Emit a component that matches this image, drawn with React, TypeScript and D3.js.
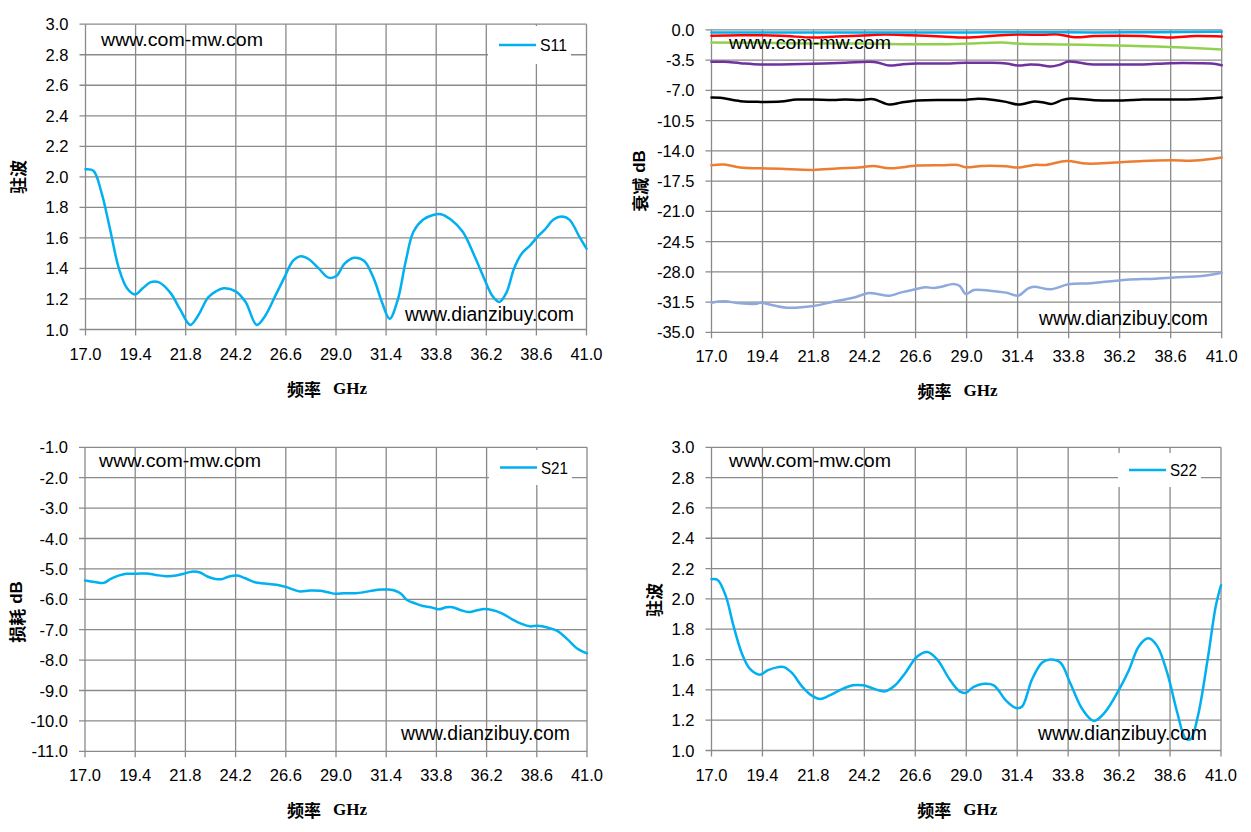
import * as d3 from 'd3';

// frequency axis ticks (GHz)
const freqTicks = d3.range(11).map((i) => 17 + 2.4 * i);

// S11 standing wave, [GHz, VSWR]
const s11: [number, number][] = [
  [17.0, 2.05], [17.38, 2.04], [17.76, 1.9], [18.14, 1.68], [18.6, 1.4], [18.99, 1.27],
  [19.37, 1.23], [19.74, 1.27], [20.12, 1.31], [20.5, 1.31], [21.07, 1.24], [21.54, 1.13],
  [22.02, 1.03], [22.39, 1.09], [22.87, 1.21], [23.25, 1.25], [23.62, 1.27], [24.19, 1.25],
  [24.67, 1.18], [25.2, 1.03], [25.61, 1.09], [26.09, 1.22], [26.56, 1.35], [26.94, 1.45],
  [27.32, 1.48], [27.7, 1.46], [28.17, 1.4], [28.64, 1.34], [29.02, 1.35], [29.4, 1.43],
  [29.87, 1.47], [30.34, 1.45], [30.82, 1.33], [31.2, 1.18], [31.57, 1.07], [31.95, 1.19],
  [32.33, 1.44], [32.71, 1.64], [33.18, 1.72], [33.65, 1.75], [34.03, 1.755], [34.5, 1.72],
  [35.07, 1.64], [35.64, 1.48], [36.11, 1.33], [36.49, 1.22], [36.82, 1.18], [37.16, 1.24],
  [37.53, 1.4], [37.91, 1.5], [38.29, 1.55], [38.67, 1.61], [39.04, 1.66], [39.42, 1.72],
  [39.8, 1.74], [40.18, 1.72], [40.65, 1.61], [41.0, 1.53],
];

// attenuation states, [GHz, dB]
const att0: [number, number][] = [
  [17, -0.31], [20, -0.3], [23, -0.32], [26, -0.3], [29, -0.31], [32, -0.28], [35, -0.3], [38, -0.27], [41, -0.22],
];
const att1: [number, number][] = [
  [17, -0.69], [18.36, -0.62], [20.26, -0.69], [21.77, -0.89], [22.9, -0.77], [24.42, -0.62],
  [25.18, -0.54], [26.31, -0.62], [27.83, -0.77], [28.96, -0.89], [30.29, -0.69], [31.42, -0.54],
  [32.56, -0.58], [33.32, -0.54], [34.06, -0.85], [35.0, -0.73], [36.34, -0.69], [37.29, -0.73],
  [38.6, -0.89], [39.75, -0.73], [41, -0.77],
];
const att2: [number, number][] = [
  [17, -1.47], [19.3, -1.51], [21.77, -1.58], [24.04, -1.58], [25.93, -1.66], [27.83, -1.66],
  [29.72, -1.54], [30.67, -1.47], [31.61, -1.62], [33.5, -1.7], [35.4, -1.78], [37.29, -1.89],
  [39.18, -2.05], [41, -2.28],
];
const att3: [number, number][] = [
  [17, -3.71], [17.6, -3.71], [18.36, -3.86], [19.3, -4.01], [20.26, -4.01], [21.77, -3.94],
  [23.28, -3.82], [24.42, -3.71], [24.8, -3.78], [25.37, -4.13], [25.93, -4.01], [26.69, -3.9],
  [27.83, -3.9], [28.96, -3.82], [30.1, -3.82], [30.86, -3.9], [31.42, -4.13], [31.99, -4.01],
  [32.37, -4.05], [32.94, -4.25], [33.32, -4.09], [33.79, -3.67], [34.26, -3.78], [34.83, -3.98],
  [35.97, -4.01], [37.29, -4.01], [38.6, -3.86], [39.94, -3.86], [40.51, -3.9], [41, -4.09],
];
const att4: [number, number][] = [
  [17, -7.83], [17.42, -7.87], [18.36, -8.26], [19.3, -8.34], [20.26, -8.3], [21.01, -8.07],
  [21.77, -8.07], [22.72, -8.11], [23.28, -8.07], [24.04, -8.11], [24.61, -8.03], [25.37, -8.65],
  [25.93, -8.41], [26.69, -8.18], [27.83, -8.11], [28.96, -8.11], [29.53, -7.99], [30.29, -8.11],
  [30.86, -8.34], [31.42, -8.65], [32.18, -8.3], [32.56, -8.38], [33.03, -8.57], [33.51, -8.11],
  [33.89, -7.95], [35.0, -8.15], [36.34, -8.18], [37.29, -8.07], [38.6, -8.07], [39.75, -8.03],
  [41, -7.83],
];
const att5: [number, number][] = [
  [17, -15.67], [17.6, -15.59], [18.36, -15.94], [19.3, -16.02], [20.26, -16.09], [21.77, -16.21],
  [22.9, -16.05], [24.04, -15.9], [24.61, -15.75], [25.37, -16.02], [26.69, -15.71], [27.83, -15.67],
  [28.58, -15.63], [28.96, -15.9], [29.72, -15.75], [30.86, -15.79], [31.42, -15.94], [32.18, -15.63],
  [32.75, -15.63], [33.7, -15.17], [34.64, -15.48], [35.97, -15.36], [37.29, -15.17], [38.6, -15.09],
  [39.75, -15.13], [41, -14.78],
];
const att6: [number, number][] = [
  [17, -31.57], [17.6, -31.42], [18.36, -31.65], [19.12, -31.69], [19.3, -31.57], [19.88, -31.88],
  [20.54, -32.15], [21.77, -31.96], [22.72, -31.46], [23.66, -31.0], [24.42, -30.45], [24.8, -30.57],
  [25.37, -30.76], [25.93, -30.38], [26.69, -29.95], [27.07, -29.79], [27.45, -29.87], [27.83, -29.72],
  [28.39, -29.41], [28.68, -29.64], [28.96, -30.57], [29.34, -30.11], [30.1, -30.18], [30.86, -30.41],
  [31.42, -30.76], [31.9, -29.91], [32.18, -29.72], [32.94, -30.03], [33.79, -29.45], [34.83, -29.33],
  [35.4, -29.18], [36.53, -28.91], [37.86, -28.79], [39.18, -28.6], [39.94, -28.52], [41, -28.1],
];

// S21 insertion loss, [GHz, dB]
const s21: [number, number][] = [
  [17.0, -5.38], [17.47, -5.43], [17.89, -5.46], [18.23, -5.33], [18.6, -5.22], [18.98, -5.16],
  [19.46, -5.16], [19.93, -5.15], [20.4, -5.2], [20.87, -5.24], [21.35, -5.22], [21.72, -5.16],
  [22.1, -5.09], [22.47, -5.11], [22.85, -5.25], [23.23, -5.33], [23.51, -5.34], [23.89, -5.25],
  [24.27, -5.22], [24.64, -5.3], [25.12, -5.44], [25.59, -5.48], [26.16, -5.52], [26.63, -5.6],
  [27.0, -5.69], [27.29, -5.74], [27.76, -5.71], [28.24, -5.72], [28.61, -5.77], [28.99, -5.82],
  [29.37, -5.8], [29.94, -5.8], [30.31, -5.77], [30.79, -5.71], [31.16, -5.68], [31.54, -5.68],
  [31.83, -5.72], [32.11, -5.82], [32.39, -6.02], [32.77, -6.13], [33.15, -6.22], [33.53, -6.26],
  [33.9, -6.33], [34.28, -6.26], [34.57, -6.26], [34.94, -6.35], [35.32, -6.42], [35.7, -6.37],
  [36.08, -6.32], [36.46, -6.35], [36.93, -6.46], [37.4, -6.65], [37.88, -6.81], [38.26, -6.89],
  [38.64, -6.87], [39.11, -6.93], [39.58, -7.04], [40.06, -7.31], [40.53, -7.62], [41.0, -7.78],
];

// S22 standing wave, [GHz, VSWR]
const s22: [number, number][] = [
  [17.0, 2.13], [17.29, 2.125], [17.67, 2.02], [18.04, 1.82], [18.43, 1.64], [18.8, 1.54],
  [19.28, 1.5], [19.66, 1.53], [20.14, 1.55], [20.42, 1.55], [20.8, 1.51], [21.28, 1.42],
  [21.75, 1.36], [22.13, 1.34], [22.51, 1.36], [23.08, 1.4], [23.65, 1.43], [24.13, 1.43],
  [24.6, 1.41], [25.17, 1.39], [25.65, 1.43], [26.12, 1.51], [26.69, 1.62], [27.17, 1.65],
  [27.64, 1.6], [28.21, 1.47], [28.69, 1.39], [28.97, 1.38], [29.35, 1.42], [29.83, 1.44],
  [30.3, 1.43], [30.87, 1.33], [31.35, 1.28], [31.63, 1.29], [32.1, 1.47], [32.58, 1.58],
  [32.96, 1.6], [33.43, 1.58], [33.91, 1.44], [34.48, 1.27], [35.01, 1.195], [35.52, 1.25],
  [36.19, 1.4], [36.66, 1.53], [37.14, 1.69], [37.58, 1.74], [37.99, 1.69], [38.47, 1.51],
  [38.94, 1.25], [39.33, 1.08], [39.57, 1.075], [39.9, 1.22], [40.37, 1.6], [40.75, 1.95],
  [41.0, 2.09],
];

const vswrTicks = d3.range(11).map((i) => 1 + 0.2 * i);
const attTicks = d3.range(11).map((i) => -35 + 3.5 * i);
const lossTicks = d3.range(11).map((i) => -11 + i);

const CYAN = '#00B0F0';
const GRID = '#8a8a8a';
const SANS = '"Liberation Sans", Arial, sans-serif';
const CJK = '"Noto Sans CJK SC", sans-serif';

interface Series { data: [number, number][]; color: string }

interface PanelProps {
  box: [number, number, number, number];
  yDomain: [number, number];
  yTicks: number[];
  series: Series[];
  yTitle: string;
  yUnit?: string;
  yTitleX: number;
  yTitleY: number;
  legend?: { name: string; box: [number, number, number, number] };
  wm1: [number, number];
  wm2: [number, number];
}

function Panel({ box, yDomain, yTicks, series, yTitle, yUnit, yTitleX, yTitleY, legend, wm1, wm2 }: PanelProps) {
  const [x0, x1, y0, y1] = box;
  const x = d3.scaleLinear().domain([17, 41]).range([x0, x1]);
  const y = d3.scaleLinear().domain(yDomain).range([y1, y0]);
  const line = d3.line<[number, number]>()
    .x((d) => x(d[0]))
    .y((d) => y(d[1]))
    .curve(d3.curveCatmullRom.alpha(0.5));

  return (
    <g>
      {yTicks.map((t) => (
        <g key={'y' + t}>
          <line x1={x0 - 6} x2={x1} y1={y(t)} y2={y(t)} stroke={GRID} strokeWidth={1.3} />
          <text x={x0 - 17} y={y(t) + 6} textAnchor="end" fontSize={16.5} fontFamily={SANS}>
            {t.toFixed(1)}
          </text>
        </g>
      ))}
      {freqTicks.map((t) => (
        <g key={'x' + t}>
          <line x1={x(t)} x2={x(t)} y1={y0} y2={y1 + 6} stroke={GRID} strokeWidth={1.3} />
          <text x={x(t)} y={y1 + 30} textAnchor="middle" fontSize={16.5} fontFamily={SANS}>
            {t.toFixed(1)}
          </text>
        </g>
      ))}
      {legend && (
        <rect x={legend.box[0]} y={legend.box[1]} width={legend.box[2] - legend.box[0]}
          height={legend.box[3] - legend.box[1]} fill="#fff" />
      )}
      {series.map((s, i) => (
        <path key={i} d={line(s.data) ?? ''} fill="none" stroke={s.color} strokeWidth={2.5}
          strokeLinejoin="round" strokeLinecap="round" />
      ))}
      {legend && (
        <g>
          <line x1={legend.box[0] + 11} x2={legend.box[0] + 48}
            y1={(legend.box[1] + legend.box[3]) / 2} y2={(legend.box[1] + legend.box[3]) / 2}
            stroke={CYAN} strokeWidth={2.5} />
          <text x={legend.box[0] + 52} y={(legend.box[1] + legend.box[3]) / 2 + 6}
            fontSize={17} fontFamily={SANS} textLength={27} lengthAdjust="spacingAndGlyphs">
            {legend.name}
          </text>
        </g>
      )}
      <text x={wm1[0]} y={wm1[1]} fontSize={19} fontFamily={SANS} textLength={162}
        lengthAdjust="spacingAndGlyphs">www.com-mw.com</text>
      <text x={wm2[0]} y={wm2[1]} fontSize={19.5} fontFamily={SANS} textLength={169}
        lengthAdjust="spacingAndGlyphs">www.dianzibuy.com</text>
      <text transform={`translate(${yTitleX},${yTitleY}) rotate(-90)`} textAnchor="middle"
        dominantBaseline="central" fontSize={17} fontWeight="bold">
        <tspan fontFamily={CJK}>{yTitle}</tspan>
        {yUnit && <tspan fontFamily={SANS} dx={5}>{yUnit}</tspan>}
      </text>
      <text x={(x0 + x1) / 2 - 9} y={y1 + 58} textAnchor="middle" dominantBaseline="central"
        fontSize={17} fontWeight="bold">
        <tspan fontFamily={CJK}>频率</tspan>
        <tspan fontFamily='"Liberation Serif", serif' dx={12}>GHz</tspan>
      </text>
    </g>
  );
}

export default function App() {
  return (
    <svg width={1251} height={832} style={{ position: 'absolute', left: 0, top: 0, background: '#fff' }}>
      <Panel
        box={[85.5, 586.5, 24.2, 329.5]}
        yDomain={[1, 3]}
        yTicks={vswrTicks}
        series={[{ data: s11, color: CYAN }]}
        yTitle="驻波"
        yTitleX={17}
        yTitleY={177}
        legend={{ name: 'S11', box: [488, 26, 571, 64] }}
        wm1={[101, 46]}
        wm2={[405, 321]}
      />
      <Panel
        box={[711.5, 1221.7, 29.8, 332.3]}
        yDomain={[-35, 0]}
        yTicks={attTicks}
        series={[
          { data: att6, color: '#8EA9DB' },
          { data: att5, color: '#ED7D31' },
          { data: att4, color: '#000000' },
          { data: att3, color: '#7030A0' },
          { data: att2, color: '#92D050' },
          { data: att1, color: '#FF0000' },
          { data: att0, color: CYAN },
        ]}
        yTitle="衰减"
        yUnit="dB"
        yTitleX={639}
        yTitleY={181}
        wm1={[729, 49]}
        wm2={[1039, 325]}
      />
      <Panel
        box={[85, 587, 447.3, 751.3]}
        yDomain={[-11, -1]}
        yTicks={lossTicks}
        series={[{ data: s21, color: CYAN }]}
        yTitle="损耗"
        yUnit="dB"
        yTitleX={16}
        yTitleY={612}
        legend={{ name: 'S21', box: [489, 450, 572, 485] }}
        wm1={[99, 467]}
        wm2={[401, 740]}
      />
      <Panel
        box={[711.5, 1221, 447.3, 750.5]}
        yDomain={[1, 3]}
        yTicks={vswrTicks}
        series={[{ data: s22, color: CYAN }]}
        yTitle="驻波"
        yTitleX={653}
        yTitleY={600}
        legend={{ name: 'S22', box: [1118, 453, 1201, 487] }}
        wm1={[729, 467]}
        wm2={[1038, 740]}
      />
    </svg>
  );
}
